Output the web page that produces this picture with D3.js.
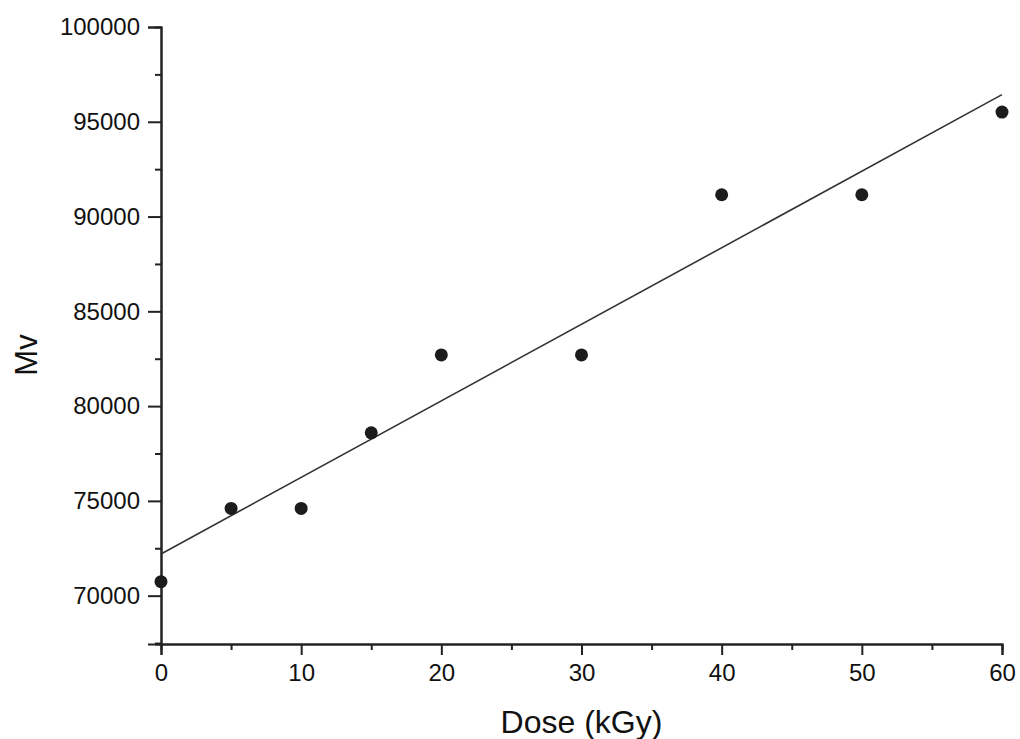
<!DOCTYPE html>
<html>
<head>
<meta charset="utf-8">
<script src="https://cdn.jsdelivr.net/npm/d3@7"></script>
<style>
  body { margin: 0; background: #fff; }
  text { font-family: "Liberation Sans", Arial, sans-serif; fill: #111; }
</style>
</head>
<body>
<div id="chart"></div>
<script>
"use strict";

// dose values (kGy) and measured Mv
var doses = [0, 5, 10, 15, 20, 30, 40, 50, 60];
var mvValues = [70740, 74600, 74600, 78590, 82700, 82700, 91150, 91150, 95510];

var fitDoses = [0, 60];
var fitValues = [72200, 96430];

var xTicks = [0, 10, 20, 30, 40, 50, 60];
var xMinor = [5, 15, 25, 35, 45, 55];
var yTicks = [70000, 75000, 80000, 85000, 90000, 95000, 100000];
var yMinor = [67500, 72500, 77500, 82500, 87500, 92500, 97500];

var width = 1020, height = 739;
var margin = {top: 27, right: 18, bottom: 95, left: 161};
var plotW = width - margin.left - margin.right;
var plotH = height - margin.top - margin.bottom;

var svg = d3.select('#chart').append('svg')
    .attr('width', width)
    .attr('height', height);

var g = svg.append('g')
    .attr('transform', 'translate(' + margin.left + ',' + margin.top + ')');

var x = d3.scaleLinear().domain([0, 60]).range([0, plotW]);
var y = d3.scaleLinear().domain([67450, 100000]).range([plotH, 0]);

// minor ticks first, so the major axis sits on top
var xMinorAxis = d3.axisBottom(x).tickValues(xMinor).tickSize(6).tickFormat('');
g.append('g')
    .attr('class', 'axis minor')
    .attr('transform', 'translate(0,' + plotH + ')')
    .call(xMinorAxis);

var yMinorAxis = d3.axisLeft(y).tickValues(yMinor).tickSize(6).tickFormat('');
g.append('g')
    .attr('class', 'axis minor')
    .call(yMinorAxis);

var xAxis = d3.axisBottom(x).tickValues(xTicks).tickSize(11).tickPadding(9);
g.append('g')
    .attr('class', 'axis axis--x')
    .attr('transform', 'translate(0,' + plotH + ')')
    .call(xAxis);

var yAxis = d3.axisLeft(y).tickValues(yTicks).tickSize(13).tickPadding(8)
    .tickFormat(d3.format('d'));
g.append('g')
    .attr('class', 'axis axis--y')
    .call(yAxis);

g.selectAll('.axis path.domain')
    .attr('stroke', '#222')
    .attr('stroke-width', 2);
g.selectAll('.axis .tick line')
    .attr('stroke', '#222')
    .attr('stroke-width', 2);
g.selectAll('.axis text')
    .style('font-size', '24px')
    .attr('fill', '#111');

// fit line
var fit = fitDoses.map(function (d, i) { return [d, fitValues[i]]; });
g.append('path')
    .datum(fit)
    .attr('fill', 'none')
    .attr('stroke', '#333')
    .attr('stroke-width', 1.6)
    .attr('d', d3.line()
        .x(function (d) { return x(d[0]); })
        .y(function (d) { return y(d[1]); }));

// data points
g.selectAll('.dot')
    .data(doses)
    .enter().append('circle')
        .attr('class', 'dot')
        .attr('cx', function (d) { return x(d); })
        .attr('cy', function (d, i) { return y(mvValues[i]); })
        .attr('r', 6.5)
        .attr('fill', '#1c1c1c');

// axis titles
svg.append('text')
    .attr('x', margin.left + plotW / 2)
    .attr('y', 733)
    .attr('text-anchor', 'middle')
    .style('font-size', '32px')
    .text('Dose (kGy)');

svg.append('text')
    .attr('transform', 'translate(37,355) rotate(-90)')
    .attr('text-anchor', 'middle')
    .style('font-size', '31px')
    .text('Mv');
</script>
</body>
</html>
